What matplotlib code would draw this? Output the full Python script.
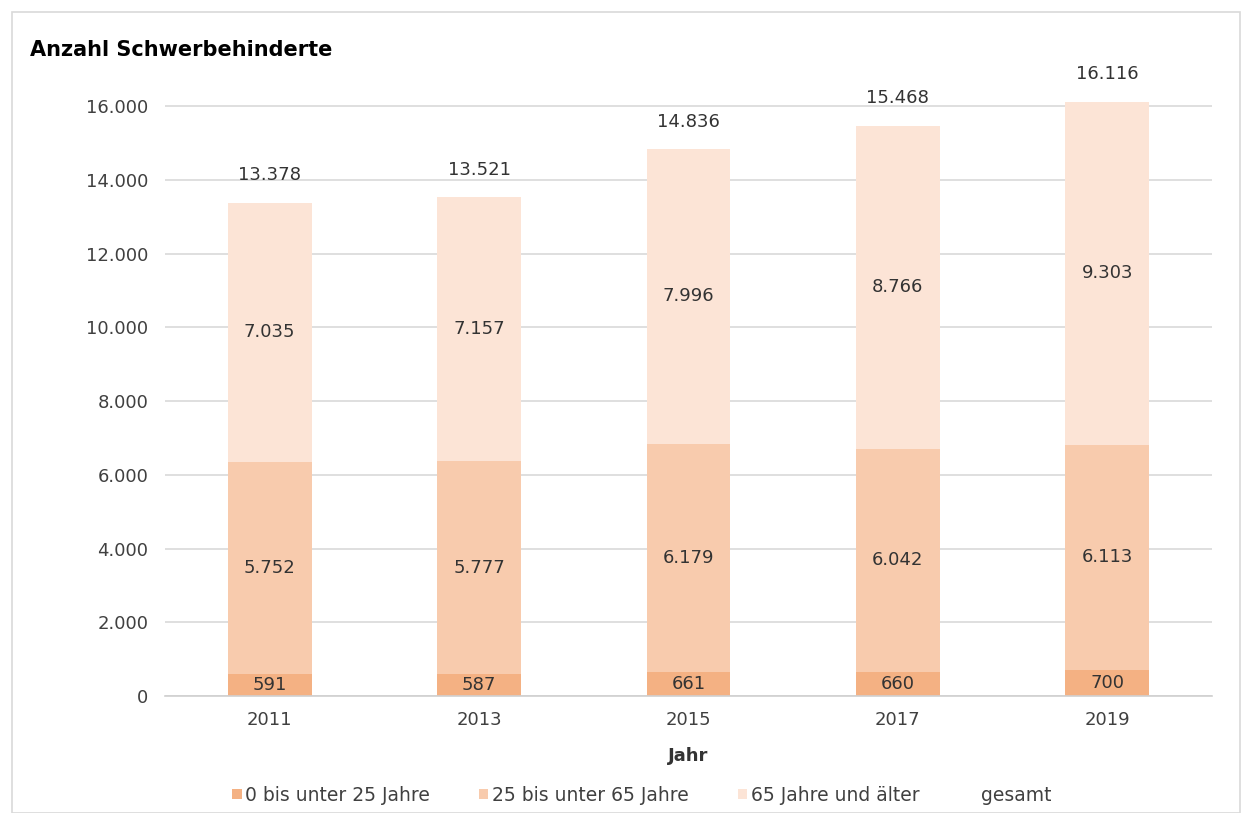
import matplotlib.pyplot as plt
from matplotlib.patches import Rectangle
from matplotlib.lines import Line2D

jahre = ["2011", "2013", "2015", "2017", "2019"]
unter25 = [591, 587, 661, 660, 700]
von25bis65 = [5752, 5777, 6179, 6042, 6113]
ab65 = [7035, 7157, 7996, 8766, 9303]
gesamt = [13378, 13521, 14836, 15468, 16116]

farben = ["#F4B183", "#F8CBAD", "#FCE4D6"]
namen = ["0 bis unter 25 Jahre", "25 bis unter 65 Jahre", "65 Jahre und älter"]

def fmt(v):
    return f"{v:,}".replace(",", ".")

fig = plt.figure(figsize=(12.52, 8.13), dpi=100)
# 16000 entspricht 590 px, oben etwas platz fuer den hoechsten balken
ax = fig.add_axes([165/1252, 1 - 696/813, 1047/1252, 645/813])

# rahmen um das ganze diagramm
fig.patches.append(Rectangle((12/1252, 0), 1 - 24/1252, 1 - 12/813, transform=fig.transFigure,
                             fill=False, edgecolor="#d9d9d9", linewidth=1.2))

x = range(len(jahre))
b = 0.40
ax.bar(x, unter25, b, color=farben[0], label=namen[0], zorder=2)
ax.bar(x, von25bis65, b, bottom=unter25, color=farben[1], label=namen[1], zorder=2)
unten = [a + c for a, c in zip(unter25, von25bis65)]
ax.bar(x, ab65, b, bottom=unten, color=farben[2], label=namen[2], zorder=2)

for i in x:
    ax.text(i, unter25[i] / 2, fmt(unter25[i]), ha="center", va="center", fontsize=13, color="#333333")
    ax.text(i, unter25[i] + von25bis65[i] / 2, fmt(von25bis65[i]), ha="center", va="center", fontsize=13, color="#333333")
    ax.text(i, unten[i] + ab65[i] / 2, fmt(ab65[i]), ha="center", va="center", fontsize=13, color="#333333")
    ax.text(i, gesamt[i] + 740, fmt(gesamt[i]), ha="center", va="center", fontsize=13, color="#333333")

ax.set_xlim(-0.5, 4.5)
ax.set_ylim(0, 17492)
ax.set_yticks(range(0, 16001, 2000))
ax.set_yticklabels([fmt(v) for v in range(0, 16001, 2000)])
ax.set_xticks(list(x))
ax.set_xticklabels(jahre)
ax.tick_params(axis="both", length=0, labelsize=13, labelcolor="#404040")
ax.tick_params(axis="y", pad=12)
ax.tick_params(axis="x", pad=11)
ax.grid(axis="y", color="#d9d9d9", linewidth=1.2, zorder=0)
for s in ["top", "right", "left"]:
    ax.spines[s].set_visible(False)
ax.spines["bottom"].set_color("#d0d0d0")
ax.spines["bottom"].set_linewidth(1.2)

ax.set_xlabel("Jahr", fontsize=13, fontweight="bold", color="#333333", labelpad=13)
fig.text(30/1252, 1 - 50/813, "Anzahl Schwerbehinderte", fontsize=15, fontweight="bold", va="center")

handles, labels = ax.get_legend_handles_labels()
handles.append(Line2D([], [], linestyle="none"))
labels.append("gesamt")
fig.legend(handles, labels, loc="center", bbox_to_anchor=(642/1252, 1 - 795/813), ncol=4,
           frameon=False, fontsize=13.5, handlelength=0.5, handleheight=0.5, handletextpad=0.2,
           columnspacing=2.6, labelcolor="#404040")

fig.savefig("out.png", dpi=100)
